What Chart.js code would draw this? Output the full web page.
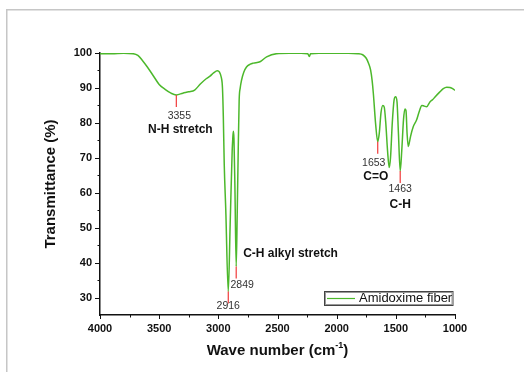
<!DOCTYPE html>
<html>
<head>
<meta charset="utf-8">
<title>FTIR - Amidoxime fiber</title>
<script src="https://cdn.jsdelivr.net/npm/chart.js@4/dist/chart.umd.min.js"></script>
<style>
    html, body { margin: 0; padding: 0; background: #fff; }
    #wrap { width: 524px; height: 372px; position: relative; }
</style>
</head>
<body>
<div id="wrap"><canvas id="ftir" width="524" height="372"></canvas></div>
<script>
/* ---- data ---- */
const wavenumbers = [
    4000, 3900, 3800, 3720, 3680, 3640, 3600, 3550, 3500, 3450, 3400, 3355, 3300, 3250, 3200,
    3150, 3100, 3070, 3040, 3009, 2990, 2975, 2965, 2958, 2950, 2937, 2916, 2900, 2883, 2878,
    2873, 2868, 2860, 2849, 2840, 2832, 2824, 2815, 2804, 2785, 2762, 2730, 2704, 2648, 2592,
    2508, 2400, 2300, 2245, 2231, 2220, 2150, 2000, 1900, 1820, 1780, 1750, 1730, 1713, 1700,
    1690, 1671, 1653, 1640, 1625, 1610, 1598, 1585, 1570, 1556, 1545, 1530, 1515, 1502, 1490,
    1478, 1463, 1450, 1435, 1423, 1414, 1405, 1395, 1385, 1375, 1353, 1325, 1300, 1280, 1260,
    1240, 1212, 1190, 1169, 1130, 1099, 1070, 1042, 1020, 1000
];
const transmittance = [
    99.8, 99.8, 99.9, 99.8, 99.3, 97.8, 96.0, 93.5, 91.0, 89.6, 88.5, 88.0, 88.5, 88.9, 89.4,
    91.2, 92.7, 93.4, 94.3, 94.9, 94.5, 93.0, 90.0, 82.0, 68.0, 55.0, 31.7, 51.0, 72.0, 75.5,
    77.6, 75.5, 62.0, 38.9, 55.0, 72.0, 86.5, 90.0, 92.2, 94.5, 96.0, 96.8, 97.1, 97.5, 98.9,
    99.8, 99.9, 99.9, 99.8, 99.0, 99.8, 99.9, 99.9, 99.9, 99.8, 99.5, 98.5, 97.0, 95.1, 92.0,
    88.4, 79.8, 74.6, 77.0, 83.0, 85.0, 84.5, 80.0, 72.0, 67.2, 70.0, 80.0, 86.5, 87.5, 86.0,
    77.0, 66.2, 72.0, 81.0, 84.0, 83.5, 77.0, 73.2, 74.5, 76.2, 78.9, 80.8, 83.5, 85.0, 84.8,
    84.6, 86.0, 86.6, 87.4, 88.8, 89.8, 90.2, 90.1, 89.8, 89.3
];

// marked bands
const peakWavenumbers = [3355, 2916, 2849, 1653, 1463];
const peakValues = [88.0, 31.7, 38.9, 74.6, 66.2];
const peakNames = ['N-H stretch', '', 'C-H alkyl stretch', 'C=O', 'C-H'];

const seriesLabel = 'Amidoxime fiber';
const xTickValues = [4000, 3500, 3000, 2500, 2000, 1500, 1000];
const yTickValues = [30, 40, 50, 60, 70, 80, 90, 100];

/* ---- layout of the callout texts (pixel offsets from the band point) ---- */
const calloutLayout = [
    { num: [3, 21], name: [4, 35], nameAlign: 'center' },
    { num: [0, 15] },
    { num: [6, 19], name: [7, -13], nameAlign: 'left' },
    { num: [-4, 21], name: [-2, 35], nameAlign: 'center' },
    { num: [0, 18], name: [0, 34], nameAlign: 'center' }
];

const FONT = '"Liberation Sans", Arial, Helvetica, sans-serif';
const LINE_COLOR = '#4cb82b';
const INK = '#111';

Chart.defaults.font.family = FONT;

const decorPlugin = {
    id: 'decor',
    beforeDraw(chart) {
        const ctx = chart.ctx;
        ctx.save();
        // light page frame
        ctx.strokeStyle = '#c6c6c6';
        ctx.lineWidth = 1.5;
        ctx.strokeRect(6.75, 9.75, 700, 500);
        ctx.restore();
    },
    afterDraw(chart) {
        const ctx = chart.ctx;
        const xs = chart.scales.x;
        const ys = chart.scales.y;
        const area = chart.chartArea;
        ctx.save();

        // tick marks, major and minor
        ctx.strokeStyle = INK;
        ctx.lineWidth = 1;
        for (let v = 1000; v <= 4000; v += 250) {
            const px = Math.round(xs.getPixelForValue(v)) + 0.5;
            const len = v % 500 === 0 ? 4 : 2.5;
            ctx.beginPath();
            ctx.moveTo(px, area.bottom);
            ctx.lineTo(px, area.bottom + len);
            ctx.stroke();
        }
        for (let v = 30; v <= 100; v += 5) {
            const py = Math.round(ys.getPixelForValue(v)) + 0.5;
            const len = v % 10 === 0 ? 5 : 2.5;
            ctx.beginPath();
            ctx.moveTo(area.left, py);
            ctx.lineTo(area.left - len, py);
            ctx.stroke();
        }

        // band markers
        peakWavenumbers.forEach((wn, i) => {
            const px = xs.getPixelForValue(wn);
            const py = ys.getPixelForValue(peakValues[i]);
            const lay = calloutLayout[i];
            ctx.strokeStyle = '#f03a3a';
            ctx.lineWidth = 1.2;
            ctx.beginPath();
            ctx.moveTo(px, py);
            ctx.lineTo(px, py + 12);
            ctx.stroke();

            ctx.fillStyle = '#333';
            ctx.font = '10.5px ' + FONT;
            ctx.textAlign = 'center';
            ctx.textBaseline = 'middle';
            ctx.fillText(String(wn), px + lay.num[0], py + lay.num[1]);

            if (peakNames[i]) {
                ctx.fillStyle = INK;
                ctx.font = 'bold 12px ' + FONT;
                ctx.textAlign = lay.nameAlign;
                ctx.fillText(peakNames[i], px + lay.name[0], py + lay.name[1]);
            }
        });

        // legend box
        const lx = 324, ly = 291, lw = 128.5, lh = 14;
        ctx.fillStyle = '#fff';
        ctx.fillRect(lx, ly, lw, lh);
        ctx.strokeStyle = '#444';
        ctx.lineWidth = 1;
        ctx.strokeRect(lx + 0.5, ly + 0.5, lw, lh);
        ctx.strokeStyle = '#999';
        ctx.strokeRect(lx + 1.5, ly + 1.5, lw - 2, lh - 2);
        ctx.strokeStyle = LINE_COLOR;
        ctx.lineWidth = 1.2;
        ctx.beginPath();
        ctx.moveTo(lx + 3, ly + 7.5);
        ctx.lineTo(lx + 31, ly + 7.5);
        ctx.stroke();
        ctx.fillStyle = INK;
        ctx.font = '13px ' + FONT;
        ctx.textAlign = 'left';
        ctx.textBaseline = 'middle';
        ctx.fillText(chart.data.datasets[0].label, lx + 35, ly + 7.5);

        // x axis title with superscript
        const cx = (area.left + area.right) / 2;
        const ty = 351;
        ctx.font = 'bold 15px ' + FONT;
        const main = 'Wave number (cm';
        const sup = '-1';
        const tail = ')';
        const wMain = ctx.measureText(main).width;
        const wTail = ctx.measureText(tail).width;
        ctx.font = 'bold 9px ' + FONT;
        const wSup = ctx.measureText(sup).width;
        let x0 = cx - (wMain + wSup + wTail) / 2;
        ctx.textAlign = 'left';
        ctx.textBaseline = 'middle';
        ctx.font = 'bold 15px ' + FONT;
        ctx.fillText(main, x0, ty);
        ctx.font = 'bold 9px ' + FONT;
        ctx.fillText(sup, x0 + wMain, ty - 5);
        ctx.font = 'bold 15px ' + FONT;
        ctx.fillText(tail, x0 + wMain + wSup, ty);

        ctx.restore();
    }
};

const points = wavenumbers.map((wn, i) => ({ x: wn, y: transmittance[i] }));

new Chart(document.getElementById('ftir'), {
    type: 'line',
    data: {
        datasets: [{
            label: seriesLabel,
            data: points,
            borderColor: LINE_COLOR,
            borderWidth: 1.5,
            pointRadius: 0,
            fill: false,
            cubicInterpolationMode: 'monotone'
        }]
    },
    options: {
        responsive: false,
        animation: false,
        devicePixelRatio: 1,
        layout: { padding: { top: 53, right: 69, bottom: 0, left: 0 } },
        plugins: {
            legend: { display: false },
            tooltip: { enabled: false }
        },
        scales: {
            x: {
                type: 'linear',
                reverse: true,
                min: 1000,
                max: 4000,
                afterBuildTicks: s => { s.ticks = xTickValues.map(v => ({ value: v })); },
                afterFit: s => { s.height = 57; },
                ticks: {
                    color: INK,
                    padding: 7,
                    maxRotation: 0,
                    autoSkip: false,
                    font: { size: 11, weight: 'bold' },
                    callback: v => String(v)
                },
                grid: { display: false, drawTicks: false },
                border: { display: true, color: INK, width: 1.5 }
            },
            y: {
                min: 25,
                max: 100,
                afterBuildTicks: s => { s.ticks = yTickValues.map(v => ({ value: v })); },
                afterFit: s => { s.width = 100; },
                ticks: {
                    color: INK,
                    padding: 8,
                    autoSkip: false,
                    font: { size: 11, weight: 'bold' },
                    callback: v => String(v)
                },
                grid: { display: false, drawTicks: false },
                border: { display: true, color: INK, width: 1.5 },
                title: {
                    display: true,
                    text: 'Transmittance (%)',
                    color: INK,
                    font: { size: 15, weight: 'bold' },
                    padding: { top: 42, bottom: 0 }
                }
            }
        }
    },
    plugins: [decorPlugin]
});
</script>
</body>
</html>
